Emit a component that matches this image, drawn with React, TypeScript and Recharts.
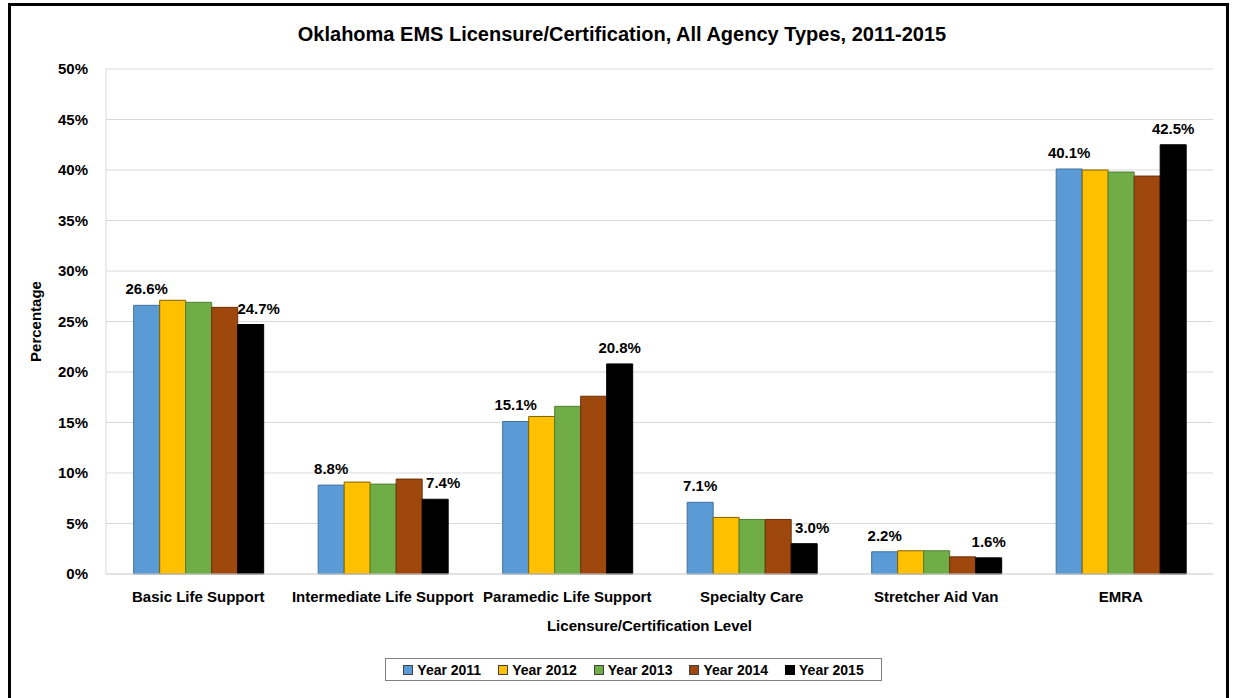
import { Bar, BarChart, CartesianGrid, LabelList, Legend, XAxis, YAxis } from "recharts";

const categories = [
  "Basic Life Support",
  "Intermediate Life Support",
  "Paramedic Life Support",
  "Specialty Care",
  "Stretcher Aid Van",
  "EMRA",
];
const year2011 = [26.6, 8.8, 15.1, 7.1, 2.2, 40.1];
const year2012 = [27.1, 9.1, 15.6, 5.6, 2.3, 40.0];
const year2013 = [26.9, 8.9, 16.6, 5.4, 2.3, 39.8];
const year2014 = [26.4, 9.4, 17.6, 5.4, 1.7, 39.4];
const year2015 = [24.7, 7.4, 20.8, 3.0, 1.6, 42.5];
const yTicks = [0, 5, 10, 15, 20, 25, 30, 35, 40, 45, 50];

const series = [
  { key: "y2011", name: "Year 2011", fill: "#5b9bd5", stroke: "#41719c" },
  { key: "y2012", name: "Year 2012", fill: "#ffc000", stroke: "#7f6000" },
  { key: "y2013", name: "Year 2013", fill: "#70ad47", stroke: "#507e32" },
  { key: "y2014", name: "Year 2014", fill: "#9e480e", stroke: "#6b300a" },
  { key: "y2015", name: "Year 2015", fill: "#000000", stroke: "#000000" },
];

const data = categories.map((name, i) => ({
  name,
  y2011: year2011[i],
  y2012: year2012[i],
  y2013: year2013[i],
  y2014: year2014[i],
  y2015: year2015[i],
}));

const FONT = "'Liberation Sans', Arial, sans-serif";
const axisText = { fontFamily: FONT, fontWeight: "bold", fontSize: 15, fill: "#000" };

const ValueLabel = ({ x, y, width, value, index, nudge }: any) => {
  // move the 2015 label aside when the 2014 bar next to it is taller
  const dx = nudge && year2014[index] > year2015[index] + 0.5 ? 8 : 0;
  return (
    <text
      x={x + width / 2 + dx}
      y={y - 11}
      textAnchor="middle"
      fontFamily={FONT}
      fontWeight="bold"
      fontSize={15}
      fill="#000"
    >
      {Number(value).toFixed(1)}%
    </text>
  );
};

const LegendBox = () => (
  <div
    style={{
      border: "1px solid #7f7f7f",
      height: 23,
      width: 497,
      display: "flex",
      alignItems: "center",
      justifyContent: "center",
      gap: 17,
      fontFamily: FONT,
      fontWeight: "bold",
      fontSize: 14,
      boxSizing: "border-box",
    }}
  >
    {series.map((s) => (
      <span key={s.key} style={{ display: "flex", alignItems: "center", gap: 4 }}>
        <span
          style={{
            width: 8,
            height: 8,
            background: s.fill,
            border: `1px solid ${s.key === "y2015" ? "#000" : "#404040"}`,
            display: "inline-block",
          }}
        />
        {s.name}
      </span>
    ))}
  </div>
);

export default function App() {
  return (
    <div style={{ position: "absolute", left: 0, top: 0, width: 1235, height: 698, background: "#fff" }}>
      <div
        style={{
          position: "absolute",
          left: 8,
          top: 3,
          width: 1221,
          height: 720,
          border: "3px solid #000",
          boxSizing: "border-box",
        }}
      />
      <div
        style={{
          position: "absolute",
          left: 0,
          top: 23,
          width: 1244,
          textAlign: "center",
          fontFamily: FONT,
          fontWeight: "bold",
          fontSize: 20,
          color: "#000",
        }}
      >
        Oklahoma EMS Licensure/Certification, All Agency Types, 2011-2015
      </div>
      <BarChart
        width={1235}
        height={698}
        data={data}
        margin={{ top: 69, right: 22, bottom: 64, left: 26 }}
        barCategoryGap="15%"
        barGap={0}
        style={{ position: "absolute", left: 0, top: 0 }}
      >
        <CartesianGrid stroke="#d9d9d9" vertical={false} />
        <XAxis
          dataKey="name"
          tickLine={false}
          axisLine={{ stroke: "#d9d9d9" }}
          height={60}
          tickMargin={11}
          interval={0}
          tick={axisText}
          label={{
            value: "Licensure/Certification Level",
            position: "insideBottom",
            offset: 3,
            dx: -10,
            style: axisText,
          }}
        />
        <YAxis
          domain={[0, 50]}
          ticks={yTicks}
          tickFormatter={(v) => `${v}%`}
          tickLine={false}
          axisLine={{ stroke: "#d9d9d9" }}
          width={80}
          tickMargin={12}
          tick={axisText}
          label={{
            value: "Percentage",
            angle: -90,
            position: "insideLeft",
            offset: 10,
            style: { ...axisText, textAnchor: "middle" },
          }}
        />
        <YAxis
          yAxisId="frame"
          orientation="right"
          width={0}
          tick={false}
          tickLine={false}
          axisLine={{ stroke: "#d9d9d9" }}
        />
        <Legend
          layout="vertical"
          verticalAlign="middle"
          align="center"
          wrapperStyle={{ position: "absolute", left: 385, top: 658, width: 497, height: 23 }}
          content={<LegendBox />}
        />
        {series.map((s) => (
          <Bar
            key={s.key}
            dataKey={s.key}
            name={s.name}
            fill={s.fill}
            stroke={s.stroke}
            strokeWidth={1}
            isAnimationActive={false}
          >
            {s.key === "y2011" && <LabelList dataKey={s.key} content={<ValueLabel />} />}
            {s.key === "y2015" && <LabelList dataKey={s.key} content={<ValueLabel nudge />} />}
          </Bar>
        ))}
      </BarChart>
    </div>
  );
}
